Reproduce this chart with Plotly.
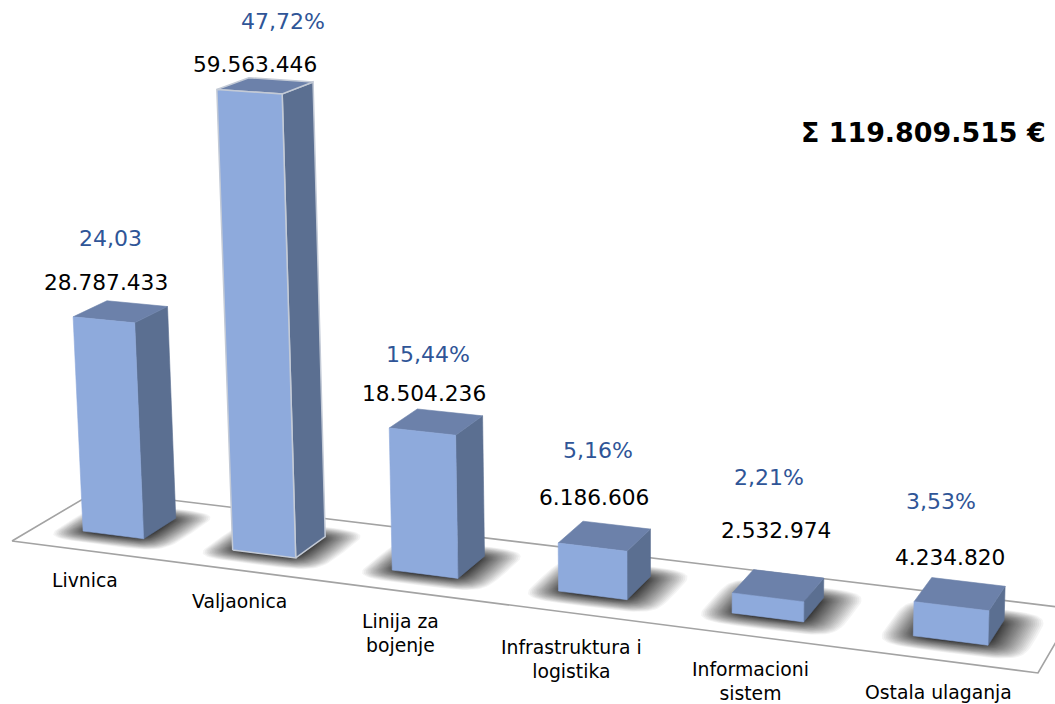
import numpy as np
import plotly.graph_objects as go

# ---- data ----
categories = ["Livnica", "Valjaonica", "Linija za<br>bojenje", "Infrastruktura i<br>logistika",
              "Informacioni<br>sistem", "Ostala ulaganja"]
amounts = [28787433, 59563446, 18504236, 6186606, 2532974, 4234820]
shares = ["24,03", "47,72%", "15,44%", "5,16%", "2,21%", "3,53%"]
total_label = "Σ 119.809.515 €"

# ---- layout of the texts (page pixels) ----
W, H = 1055, 704
category_xy = [(85, 580), (239, 601), (400, 633), (571, 659), (750, 681), (938, 692)]
amount_xy = [(106, 282), (255, 64), (424, 393), (594, 497), (776, 530), (950, 557)]
share_xy = [(110, 238), (283, 21), (428, 354), (598, 450), (769, 477), (941, 501)]

# ---- camera: floor corners on the page plus the vertical vanishing direction ----
FL, FR, BR, BL = (12, 541), (1038, 673), (1075, 609), (96.5, 491)
dx1, dx2, sx = FR[0] - BR[0], BL[0] - BR[0], FL[0] - FR[0] + BR[0] - BL[0]
dy1, dy2, sy = FR[1] - BR[1], BL[1] - BR[1], FL[1] - FR[1] + BR[1] - BL[1]
den = dx1 * dy2 - dx2 * dy1
g = (sx * dy2 - dx2 * sy) / den
h = (dx1 * sy - sx * dy1) / den
P = np.array([
    [FR[0] - FL[0] + g * FR[0], BL[0] - FL[0] + h * BL[0], -0.000607 * 650, FL[0]],
    [FR[1] - FL[1] + g * FR[1], BL[1] - FL[1] + h * BL[1], -0.000607 * 12700, FL[1]],
    [g, h, -0.000607, 1.0],
])


def project(u, w, v):
    """floor position (u, w in 0..1), height v in millions -> page pixels"""
    u, w, v = np.broadcast_arrays(np.asarray(u, float), np.asarray(w, float), np.asarray(v, float))
    q = P @ np.vstack([u.ravel(), w.ravel(), v.ravel(), np.ones(u.size)])
    return q[0] / q[2], q[1] / q[2]


fig = go.Figure()


def poly(x, y, fill, line=None, lw=0.6):
    fig.add_trace(go.Scatter(
        x=list(x) + [x[0]], y=list(y) + [y[0]], mode="lines", fill="toself", fillcolor=fill,
        line=dict(color=line or fill, width=lw), hoverinfo="skip", showlegend=False))


# floor
fx, fy = project([0, 1, 1, 0], [0, 0, 1, 1], 0)
poly(fx, fy, "#FFFFFF", "#A3A3A3", 1.6)

n = len(amounts)
BAR = 0.4 / n
W0, W1 = 0.3, 0.7
FRONT, SIDE, TOP = "#8EAADC", "#5B6F91", "#6C81AA"
SHIFT = 0.004


def centre(i):
    return (i + 0.5) / n - (SHIFT if i else 0)


# shadows on the floor
LAYERS = 34
t = np.linspace(0, 2 * np.pi, 60, endpoint=False)
for i in range(n):
    uc = centre(i)
    for k in range(LAYERS):
        e = 1 - k / (LAYERS - 1)
        hu = BAR / 2 + 0.032 * e ** 1.7
        hw = 0.2 + 0.17 * e ** 1.7
        cu = np.sign(np.cos(t)) * np.abs(np.cos(t)) ** 0.4
        cw = np.sign(np.sin(t)) * np.abs(np.sin(t)) ** 0.4
        sxs, sys = project(uc + 0.004 * e + hu * cu, 0.49 + hw * cw, 0)
        poly(sxs, sys, "rgba(0,0,0,0.042)", "rgba(0,0,0,0)", 0)

# bars
edge_colors = [None, "#C3CAD6", None, None, None, None]
for i, val in enumerate(amounts):
    v = val / 1e6
    uc = centre(i)
    u0, u1 = uc - BAR / 2, uc + BAR / 2
    e = edge_colors[i]
    lw = 1.5 if e else 0.6
    x, y = project([u1, u1, u1, u1], [W0, W1, W1, W0], [0, 0, v, v])
    poly(x, y, SIDE, e, lw)
    x, y = project([u0, u1, u1, u0], [W0, W0, W1, W1], v)
    poly(x, y, TOP, e, lw)
    x, y = project([u0, u1, u1, u0], [W0, W0, W0, W0], [0, 0, v, v])
    poly(x, y, FRONT, e, lw)

FONT = "DejaVu Sans"


def label(xy, text, size, color):
    fig.add_annotation(x=xy[0], y=xy[1], text=text, showarrow=False, xanchor="center", yanchor="middle",
                       font=dict(family=FONT, size=size, color=color), align="center")


for i in range(n):
    label(category_xy[i], categories[i], 18.8, "#000000")
    label(amount_xy[i], f"{amounts[i]:,}".replace(",", "."), 21.7, "#000000")
    label(share_xy[i], shares[i], 22, "#2F5597")

fig.add_annotation(x=1048, y=132, text="<b>" + total_label + "</b>", showarrow=False, xanchor="right",
                   yanchor="middle", font=dict(family=FONT, size=26.9, color="#000000"))

fig.update_layout(
    width=W, height=H, margin=dict(l=0, r=0, t=0, b=0), paper_bgcolor="#FFFFFF", plot_bgcolor="#FFFFFF",
    showlegend=False,
    xaxis=dict(range=[0, W], visible=False, fixedrange=True),
    yaxis=dict(range=[H, 0], visible=False, fixedrange=True),
)
fig.write_html("out.html", config={"displayModeBar": False},
               post_script="document.body.style.margin='0';")
